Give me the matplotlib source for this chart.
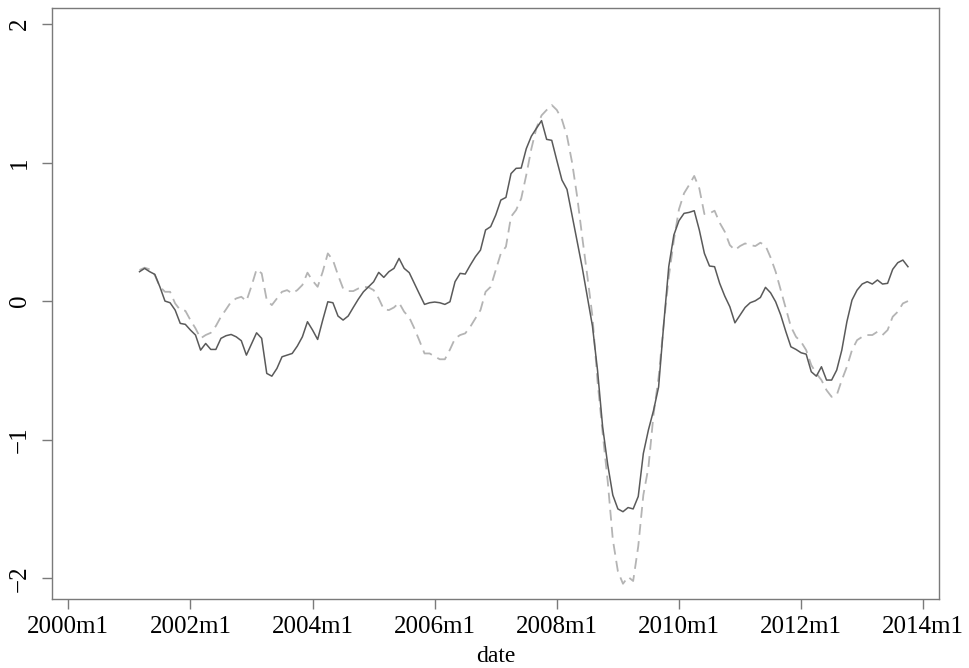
import matplotlib
matplotlib.use("Agg")
import matplotlib.pyplot as plt
import numpy as np

plt.rcParams['font.family'] = ['Liberation Serif', 'DejaVu Serif']

# months since 2000m1 (2001m3 .. 2013m10)
start_month = 14
solid = [0.212, 0.236, 0.212, 0.193, 0.103, 0.0, -0.012, -0.065, -0.161, -0.168,
         -0.209, -0.245, -0.354, -0.306, -0.349, -0.349, -0.269, -0.250, -0.241, -0.258,
         -0.286, -0.390, -0.310, -0.229, -0.269, -0.522, -0.542, -0.486, -0.402, -0.390,
         -0.378, -0.325, -0.258, -0.149, -0.209, -0.277, -0.137, -0.005, -0.012, -0.108,
         -0.137, -0.108, -0.046, 0.014, 0.067, 0.103, 0.139, 0.207, 0.171, 0.212,
         0.236, 0.308, 0.236, 0.205, 0.128, 0.051, -0.024, -0.012, -0.007, -0.012,
         -0.024, -0.005, 0.140, 0.200, 0.195, 0.260, 0.320, 0.368, 0.513, 0.537,
         0.621, 0.729, 0.748, 0.92, 0.958, 0.96, 1.10, 1.19, 1.247, 1.302,
         1.167, 1.16, 1.015, 0.874, 0.806, 0.62, 0.43, 0.24, 0.03, -0.18,
         -0.50, -0.907, -1.18, -1.40, -1.50, -1.52, -1.49, -1.50, -1.41, -1.10,
         -0.93, -0.79, -0.62, -0.17, 0.25, 0.477, 0.580, 0.633, 0.640, 0.652,
         0.513, 0.344, 0.253, 0.248, 0.128, 0.036, -0.041, -0.157, -0.101, -0.046,
         -0.012, 0.002, 0.026, 0.099, 0.060, -0.005, -0.101, -0.22, -0.330, -0.349,
         -0.373, -0.383, -0.510, -0.542, -0.474, -0.570, -0.570, -0.498, -0.354, -0.149,
         0.007, 0.079, 0.123, 0.140, 0.123, 0.152, 0.123, 0.128, 0.229, 0.277,
         0.296, 0.248]
dashed = [0.224, 0.241, 0.229, 0.188, 0.103, 0.067, 0.067, -0.017, -0.065, -0.070,
          -0.137, -0.197, -0.269, -0.245, -0.229, -0.180, -0.113, -0.060, -0.005, 0.019,
          0.031, 0.0, 0.108, 0.229, 0.200, 0.007, -0.029, 0.019, 0.067, 0.079,
          0.055, 0.079, 0.116, 0.205, 0.147, 0.103, 0.212, 0.344, 0.296, 0.188,
          0.091, 0.072, 0.072, 0.091, 0.103, 0.099, 0.079, 0.019, -0.060, -0.065,
          -0.046, -0.012, -0.077, -0.118, -0.197, -0.286, -0.378, -0.378, -0.40, -0.42,
          -0.42, -0.35, -0.27, -0.245, -0.233, -0.185, -0.125, -0.065, 0.067, 0.103,
          0.224, 0.344, 0.392, 0.609, 0.657, 0.74, 0.91, 1.10, 1.25, 1.34,
          1.379, 1.415, 1.379, 1.31, 1.19, 1.0, 0.753, 0.46, 0.18, -0.11,
          -0.58, -0.95, -1.30, -1.72, -1.95, -2.04, -1.99, -2.02, -1.77, -1.40,
          -1.20, -0.82, -0.55, -0.17, 0.176, 0.440, 0.662, 0.778, 0.838, 0.903,
          0.813, 0.628, 0.633, 0.652, 0.565, 0.501, 0.404, 0.368, 0.397, 0.416,
          0.404, 0.397, 0.421, 0.40, 0.315, 0.212, 0.079, -0.053, -0.185, -0.258,
          -0.294, -0.354, -0.462, -0.522, -0.570, -0.643, -0.691, -0.679, -0.570, -0.474,
          -0.354, -0.282, -0.258, -0.245, -0.245, -0.221, -0.245, -0.209, -0.113, -0.077,
          -0.017, 0.0]
tick_labels = ["2000m1", "2002m1", "2004m1", "2006m1", "2008m1", "2010m1", "2012m1", "2014m1"]
y_ticks = [-2, -1, 0, 1, 2]

months = np.arange(start_month, start_month + len(solid))

fig = plt.figure(figsize=(9.7, 6.68), dpi=100)
ax = fig.add_axes([52/970, 1 - 599/668, (939-52)/970, (599-8)/668])

ax.plot(months, dashed, color='#b4b4b4', lw=1.3, dashes=(6, 3.5))
ax.plot(months, solid, color='#5a5a5a', lw=1.1)

ax.set_xlim(-3.2, 171.1)
ax.set_ylim(-2.15, 2.115)
ax.set_xticks(np.arange(len(tick_labels)) * 24)
ax.set_xticklabels(tick_labels)
ax.set_yticks(y_ticks)
ax.set_yticklabels([str(v).replace('-', '\u2212') for v in y_ticks], rotation=90, va='center')

for s in ax.spines.values():
    s.set_color('#7a7a7a')
    s.set_linewidth(1.0)
ax.tick_params(axis='both', length=7.2, width=1.0, color='#7a7a7a', labelsize=18, labelcolor='black')
ax.tick_params(axis='x', pad=5)
ax.tick_params(axis='y', pad=8)
ax.set_xlabel('date', fontsize=17, labelpad=6)

fig.savefig('out.png', dpi=100)
